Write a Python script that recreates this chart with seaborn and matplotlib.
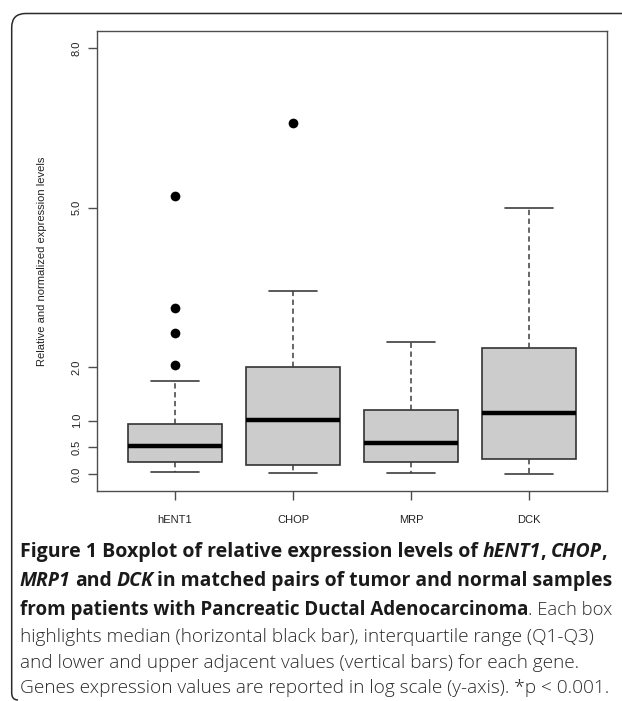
import matplotlib
matplotlib.use('Agg')
import matplotlib.pyplot as plt
from matplotlib.path import Path
from matplotlib.patches import PathPatch
import seaborn as sns
import pandas as pd

# five-number summaries
genes = ['hENT1', 'CHOP', 'MRP', 'DCK']
whisker_low = [0.03, 0.02, 0.01, 0.00]
q1 = [0.23, 0.16, 0.22, 0.28]
medians = [0.53, 1.01, 0.59, 1.15]
q3 = [0.94, 2.01, 1.21, 2.36]
whisker_high = [1.75, 3.44, 2.47, 5.00]

outlier_gene = ['hENT1', 'hENT1', 'hENT1', 'hENT1', 'CHOP']
outlier_value = [2.05, 2.65, 3.12, 5.23, 6.59]

yticks = [0.0, 0.5, 1.0, 2.0, 5.0, 8.0]
ytick_labels = ['0.0', '0.5', '1.0', '2.0', '5.0', '8.0']
ylabel = 'Relative and normalized expression levels'

caption = [
    [('Figure 1 Boxplot of relative expression levels of ', 'b'), ('hENT1', 'bi'),
     (', ', 'b'), ('CHOP', 'bi'), (',', 'b')],
    [('MRP1', 'bi'), (' and ', 'b'), ('DCK', 'bi'),
     (' in matched pairs of tumor and normal samples', 'b')],
    [('from patients with Pancreatic Ductal Adenocarcinoma', 'b'), ('. Each box', 'r')],
    [('highlights median (horizontal black bar), interquartile range (Q1-Q3)', 'r')],
    [('and lower and upper adjacent values (vertical bars) for each gene.', 'r')],
    [('Genes expression values are reported in log scale (y-axis). *p < 0.001.', 'r')],
]
caption_baselines = [557, 586, 615, 642.5, 668, 693]

W, H = 622, 701

sns.set_style('white')
plt.rcParams['font.family'] = ['Liberation Sans', 'DejaVu Sans']

fig = plt.figure(figsize=(W / 100, H / 100), dpi=100)
ax = fig.add_axes([97 / W, 1 - 491 / H, 510 / W, 460 / H])

outliers = pd.DataFrame({'gene': outlier_gene, 'value': outlier_value})
sns.stripplot(data=outliers, x='gene', y='value', order=genes, jitter=False,
              color='black', size=7, linewidth=0, zorder=5, ax=ax)

stats = []
for i, g in enumerate(genes):
    stats.append({'label': g, 'whislo': whisker_low[i], 'q1': q1[i],
                  'med': medians[i], 'q3': q3[i], 'whishi': whisker_high[i],
                  'fliers': []})

ax.bxp(stats, positions=range(len(genes)), widths=0.8, capwidths=0.4,
       patch_artist=True, showfliers=False,
       boxprops=dict(facecolor='#cccccc', edgecolor='#333333', linewidth=1.2),
       medianprops=dict(color='black', linewidth=3.2, solid_capstyle='butt'),
       whiskerprops=dict(color='#3d3d3d', linewidth=1.1, linestyle=(0, (3.5, 2.3))),
       capprops=dict(color='#3d3d3d', linewidth=1.2))

ax.set_xlim(-0.66, 3.66)
ax.set_ylim(-0.32, 8.32)
ax.set_xticks(range(len(genes)))
ax.set_xticklabels(genes)
ax.set_yticks(yticks)
ax.set_yticklabels(ytick_labels)
ax.set_xlabel('')
ax.set_ylabel('')

for sp in ax.spines.values():
    sp.set_visible(True)
    sp.set_color('#4d4d4d')
    sp.set_linewidth(1.0)

ax.tick_params(axis='both', bottom=True, left=True, direction='out',
               length=6.5, width=1.0, color='#4d4d4d',
               labelsize=8, labelcolor='#222222')
ax.tick_params(axis='x', pad=10.5)
ax.tick_params(axis='y', pad=5.8)
for lbl in ax.get_yticklabels():
    lbl.set_rotation(90)
    lbl.set_rotation_mode('anchor')
    lbl.set_ha('center')
    lbl.set_va('baseline')

fig.text(45.5 / W, 1 - 261 / H, ylabel, rotation=90, rotation_mode='anchor',
         ha='center', va='baseline', fontsize=8, color='#222222')

# rounded outer frame
frame = [(18, 700), (11.7, 700), (11.7, 693), (11.7, 27.5),
         (11.7, 13.5), (25.7, 13.5), (640, 13.5)]
codes = [Path.MOVETO, Path.CURVE3, Path.CURVE3, Path.LINETO,
         Path.CURVE3, Path.CURVE3, Path.LINETO]
verts = [(x / 100, (H - y) / 100) for x, y in frame]
fig.patches.append(PathPatch(Path(verts, codes), facecolor='none', edgecolor='#2b2b2b',
                             linewidth=1.1, transform=fig.dpi_scale_trans))

# caption with mixed styles
styles = {
    'b': dict(family=['Open Sans', 'DejaVu Sans'], weight='bold', style='normal',
              fontsize=14.0, color='#1a1a1a'),
    'bi': dict(family=['Open Sans', 'DejaVu Sans'], weight='bold', style='italic',
               fontsize=14.0, color='#1a1a1a'),
    'r': dict(family=['Open Sans', 'DejaVu Sans'], weight='light', style='normal',
              fontsize=13.7, color='#2a2a2a'),
}
renderer = fig.canvas.get_renderer()
left_edge, right_edge = 20, 616


def text_width(s, st, scale=1.0):
    props = dict(styles[st], fontsize=styles[st]['fontsize'] * scale)
    t = fig.text(0, 0, s, **props)
    w = t.get_window_extent(renderer).width
    t.remove()
    return w


def run_widths(runs, scale):
    out = []
    sp = {st: text_width('n n', st, scale) - text_width('nn', st, scale) for st in styles}
    for s, st in runs:
        lead = (len(s) - len(s.lstrip(' '))) * sp[st]
        trail = (len(s) - len(s.rstrip(' '))) * sp[st]
        kern = -1 if st == 'bi' else 0
        out.append((lead, text_width(s.strip(' '), st, scale), trail + kern))
    return out


for runs, base in zip(caption, caption_baselines):
    widths = run_widths(runs, 1.0)
    total = sum(a + b + c for a, b, c in widths)
    scale = min(1.0, (right_edge - left_edge) / total)
    if scale < 1.0:
        widths = run_widths(runs, scale)
    x = left_edge
    for (s, st), (lead, w, trail) in zip(runs, widths):
        x += lead
        fig.text(x / W, 1 - base / H, s.strip(' '), ha='left', va='baseline',
                 **dict(styles[st], fontsize=styles[st]['fontsize'] * scale))
        x += w + trail

fig.savefig('out.png', dpi=100)
